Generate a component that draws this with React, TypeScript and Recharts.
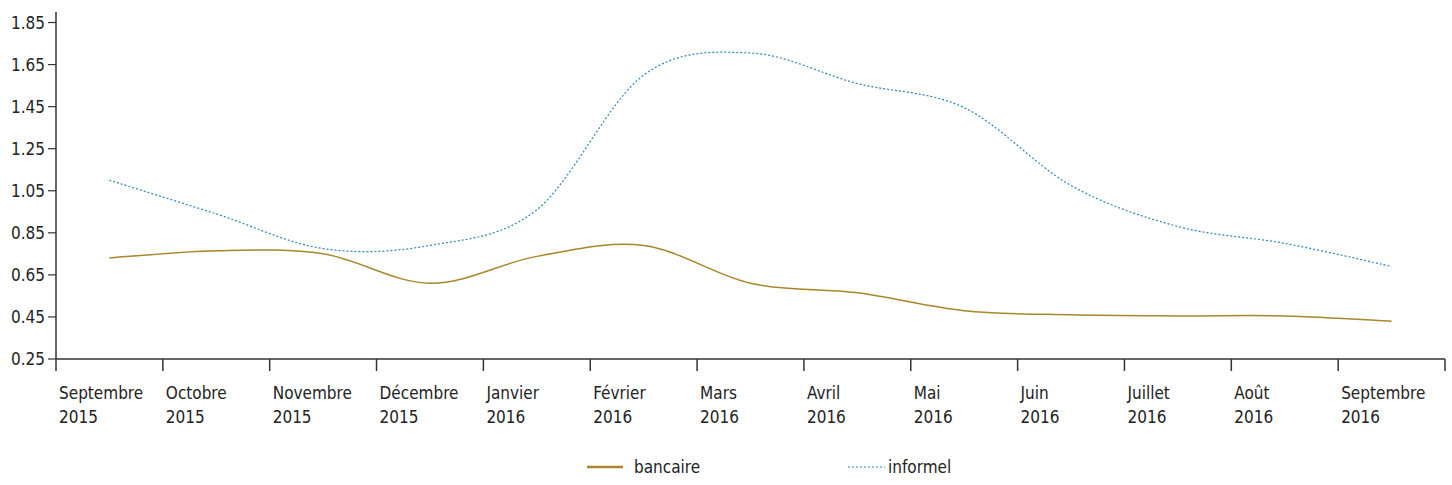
import React from 'react'
import { LineChart, Line, XAxis, YAxis, Legend } from 'recharts'

const MONTHS = [
  'Septembre', 'Octobre', 'Novembre', 'Décembre', 'Janvier', 'Février', 'Mars',
  'Avril', 'Mai', 'Juin', 'Juillet', 'Août', 'Septembre',
]
const YEARS = ['2015', '2015', '2015', '2015', '2016', '2016', '2016', '2016', '2016', '2016', '2016', '2016', '2016']

const BANCAIRE = [0.73, 0.765, 0.75, 0.61, 0.738, 0.79, 0.61, 0.565, 0.48, 0.46, 0.455, 0.455, 0.43]
const INFORMEL = [1.1, 0.94, 0.775, 0.79, 0.96, 1.6, 1.705, 1.56, 1.445, 1.075, 0.88, 0.8, 0.69]

const Y_TICKS = [0.25, 0.45, 0.65, 0.85, 1.05, 1.25, 1.45, 1.65, 1.85]
const X_TICKS = MONTHS.map((_, i) => i).concat([MONTHS.length])

const GOLD = '#a8862a'
const BLUE = '#2a86c0'
const AXIS = '#333333'
const FONT = '"DejaVu Sans Condensed", "Roboto", sans-serif'

const data = MONTHS.map((m, i) => ({
  x: i + 0.5,
  bancaire: BANCAIRE[i],
  informel: INFORMEL[i],
}))

// spreadsheet-style smoothed line (catmull-rom through every point)
const smoothCurve = (context: any) => {
  let pts: number[][] = []
  return {
    areaStart() {},
    areaEnd() {},
    lineStart() { pts = [] },
    point(x: number, y: number) { pts.push([x, y]) },
    lineEnd() {
      if (!pts.length) return
      context.moveTo(pts[0][0], pts[0][1])
      for (let i = 0; i < pts.length - 1; i++) {
        const p0 = pts[i - 1] || pts[i]
        const p1 = pts[i]
        const p2 = pts[i + 1]
        const p3 = pts[i + 2] || p2
        context.bezierCurveTo(
          p1[0] + (p2[0] - p0[0]) / 6, p1[1] + (p2[1] - p0[1]) / 6,
          p2[0] - (p3[0] - p1[0]) / 6, p2[1] - (p3[1] - p1[1]) / 6,
          p2[0], p2[1],
        )
      }
    },
  }
}

const MonthTick = (props: any) => {
  const { x, y, payload } = props
  const i = payload.value
  return (
    <g>
      <line x1={x} y1={y - 8} x2={x} y2={y + 4} stroke={AXIS} strokeWidth={1.5} />
      {i < MONTHS.length && (
        <text x={x + 3} y={y + 32} fill="#222" fontSize={17} fontFamily={FONT}>
          <tspan x={x + 3}>{MONTHS[i]}</tspan>
          <tspan x={x + 3} dy={24}>{YEARS[i]}</tspan>
        </text>
      )}
    </g>
  )
}

const LegendContent = () => (
  <div style={{ position: 'relative', height: 26, fontFamily: FONT, fontSize: 17, color: '#222' }}>
    <div style={{ position: 'absolute', left: 587, top: 0, display: 'flex', alignItems: 'center' }}>
      <svg width={36} height={10}>
        <line x1={0} y1={5} x2={36} y2={5} stroke={GOLD} strokeWidth={2.5} />
      </svg>
      <span style={{ marginLeft: 11 }}>bancaire</span>
    </div>
    <div style={{ position: 'absolute', left: 848, top: 0, display: 'flex', alignItems: 'center' }}>
      <svg width={37} height={10}>
        <line x1={0} y1={5} x2={37} y2={5} stroke={BLUE} strokeWidth={1.2} strokeDasharray="2 2" />
      </svg>
      <span style={{ marginLeft: 3 }}>informel</span>
    </div>
  </div>
)

export default function App() {
  return (
    <div style={{ position: 'absolute', left: 0, top: 0, width: 1452, height: 485, background: '#fff' }}>
      <LineChart width={1452} height={485} data={data} margin={{ top: 12, right: 7, left: 0, bottom: 0 }}>
        <XAxis
          dataKey="x"
          type="number"
          domain={[0, MONTHS.length]}
          ticks={X_TICKS}
          interval={0}
          tick={<MonthTick />}
          tickLine={false}
          axisLine={{ stroke: AXIS, strokeWidth: 1.5 }}
          height={100}
        />
        <YAxis
          type="number"
          domain={[0.25, 1.9]}
          ticks={Y_TICKS}
          interval={0}
          width={56}
          tickFormatter={(v: number) => v.toFixed(2)}
          tick={{ fill: '#222', fontSize: 17, fontFamily: FONT }}
          tickSize={8}
          tickMargin={3}
          tickLine={{ stroke: AXIS, strokeWidth: 1.2 }}
          axisLine={{ stroke: AXIS, strokeWidth: 1.5 }}
        />
        <Legend verticalAlign="bottom" content={<LegendContent />} wrapperStyle={{ left: 0, bottom: 2, width: 1452 }} />
        <Line
          type={smoothCurve as any}
          dataKey="bancaire"
          stroke={GOLD}
          strokeWidth={1.5}
          dot={false}
          isAnimationActive={false}
        />
        <Line
          type={smoothCurve as any}
          dataKey="informel"
          stroke={BLUE}
          strokeWidth={1.2}
          strokeDasharray="2 2"
          dot={false}
          isAnimationActive={false}
        />
      </LineChart>
    </div>
  )
}
